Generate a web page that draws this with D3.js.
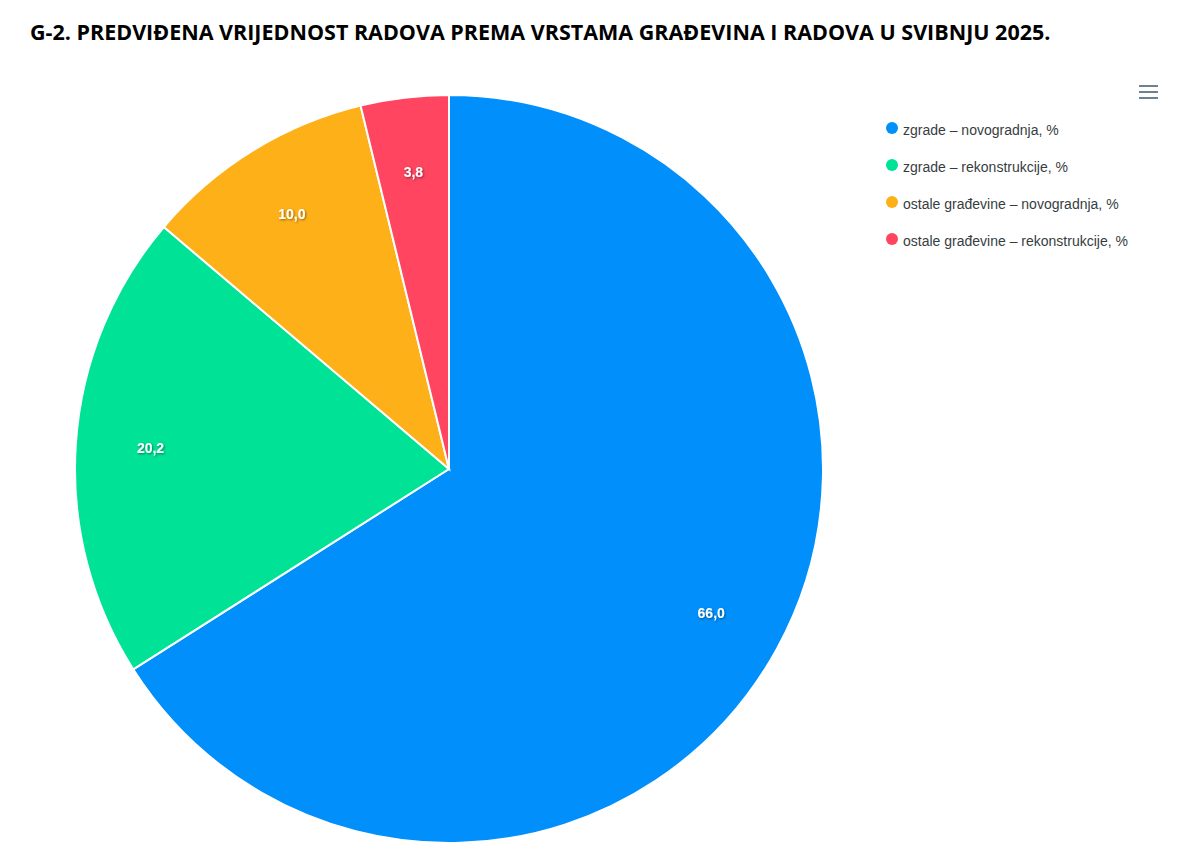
<!DOCTYPE html>
<html><head><meta charset="utf-8">
<script src="https://cdn.jsdelivr.net/npm/d3@7"></script>
<style>body{margin:0;background:#fff}</style></head>
<body><svg id="c" width="1194" height="856"></svg>
<script>
const categories=["zgrade – novogradnja, %","zgrade – rekonstrukcije, %","ostale građevine – novogradnja, %","ostale građevine – rekonstrukcije, %"];
const values=[66.0,20.2,10.0,3.8];
const colors=["#008ffb","#00e396","#feb019","#ff4560"];
const svg=d3.select("#c");
const defs=svg.append("defs");
const f=defs.append("filter").attr("id","sh").attr("x","-50%").attr("y","-50%").attr("width","200%").attr("height","200%");
f.append("feDropShadow").attr("dx",1).attr("dy",1).attr("stdDeviation",1.2).attr("flood-color","#000").attr("flood-opacity",0.45);
svg.append("text").attr("x",30).attr("y",40).attr("font-family","Open Sans").attr("font-weight",700).attr("font-size",21.5).attr("fill","#000")
 .text("G-2. PREDVIĐENA VRIJEDNOST RADOVA PREMA VRSTAMA GRAĐEVINA I RADOVA U SVIBNJU 2025.");
const cx=449,cy=469,r=374;
const pie=d3.pie().sort(null).value(d=>d);
const arcs=pie(values);
const arc=d3.arc().innerRadius(0).outerRadius(r);
const lab=d3.arc().innerRadius(r*0.8).outerRadius(r*0.8);
const g=svg.append("g").attr("transform",`translate(${cx},${cy})`);
g.selectAll("path").data(arcs).join("path").attr("d",arc).attr("fill",(d,i)=>colors[i]).attr("stroke","#fff").attr("stroke-width",2);
g.selectAll("text").data(arcs).join("text").attr("transform",d=>`translate(${lab.centroid(d)})`)
 .attr("text-anchor","middle").attr("dy","0.35em").attr("font-family","Liberation Sans, Arial").attr("font-weight",700).attr("font-size",14)
 .attr("fill","#fff").attr("filter","url(#sh)").text(d=>d.data.toFixed(1).replace(".",","));
const lg=svg.append("g");
categories.forEach((c,i)=>{
 const y=130+i*37;
 lg.append("circle").attr("cx",892).attr("cy",y-2).attr("r",6).attr("fill",colors[i]);
 lg.append("text").attr("x",903).attr("y",y+5).attr("font-family","Liberation Sans, Arial").attr("font-size",14).attr("fill","#373d3f").text(c);
});
[86,92,98].forEach(y=>svg.append("line").attr("x1",1139).attr("x2",1158).attr("y1",y).attr("y2",y).attr("stroke","#6e8192").attr("stroke-width",2));
</script></body></html>
